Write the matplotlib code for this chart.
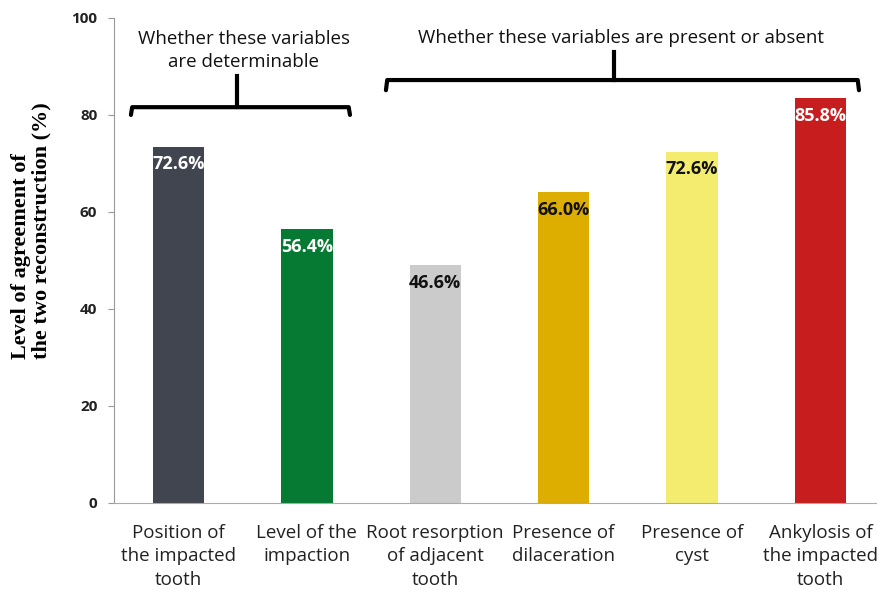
import matplotlib
matplotlib.use('Agg')
import matplotlib.pyplot as plt

# Data
categories = ['Position of\nthe impacted\ntooth', 'Level of the\nimpaction',
              'Root resorption\nof adjacent\ntooth', 'Presence of\ndilaceration',
              'Presence of\ncyst', 'Ankylosis of\nthe impacted\ntooth']
bar_heights = [73.4, 56.4, 49.0, 64.0, 72.4, 83.4]
bar_labels = ['72.6%', '56.4%', '46.6%', '66.0%', '72.6%', '85.8%']
bar_colors = ['#41454f', '#067a33', '#cbcbcb', '#ddad00', '#f4ec6e', '#c81d1e']
label_colors = ['white', 'white', '#111111', '#111111', '#111111', 'white']
yticks = [0, 20, 40, 60, 80, 100]

plt.rcParams['font.family'] = ['Open Sans', 'DejaVu Sans']

fig = plt.figure(figsize=(8.78, 5.90), dpi=100)
ax = fig.add_axes([0.1298, 0.148, 0.8702, 0.8215])

x = list(range(len(categories)))
ax.bar(x, bar_heights, width=0.4, color=bar_colors)

# Value labels inside the bars
for xi, h, lab, c in zip(x, bar_heights, bar_labels, label_colors):
    ax.annotate(lab, (xi, h), xytext=(0, -12.5), textcoords='offset points',
                ha='center', va='center', fontsize=13, fontweight='bold', color=c)

ax.set_xlim(-0.502, 5.448)
ax.set_ylim(0, 100)
ax.set_yticks(yticks)
ax.set_xticks(x)
ax.set_xticklabels(categories, fontsize=13.5, color='#222222', linespacing=1.42)
for t in ax.get_yticklabels():
    t.set_fontweight('bold')
    t.set_fontsize(11)
    t.set_color('#222222')
ax.tick_params(axis='x', length=0, pad=15)
ax.tick_params(axis='y', length=4, color='#999999', pad=8)

for s in ['top', 'right']:
    ax.spines[s].set_visible(False)
ax.spines['left'].set_color('#999999')
ax.spines['bottom'].set_color('#aaaaaa')

# y label, lines start at the same height like the original
fig.text(0.0359, 0.6085, 'Level of agreement of\nthe two reconstruction (%)',
         family='Liberation Serif', fontweight='bold', fontsize=16,
         rotation=90, ha='center', va='center', multialignment='left',
         linespacing=1.05)

# Brackets for the two groups
ax.plot([-0.37, -0.36, 1.326, 1.336], [80.0, 81.6, 81.6, 80.0], color='black',
        lw=3, clip_on=False, solid_joinstyle='round', solid_capstyle='round')
ax.plot([0.456, 0.456], [81.6, 88.0], color='black', lw=3, clip_on=False)
ax.plot([1.616, 1.626, 5.29, 5.30], [85.1, 87.2, 87.2, 85.1], color='black',
        lw=3, clip_on=False, solid_joinstyle='round', solid_capstyle='round')
ax.plot([3.39, 3.39], [87.2, 93.0], color='black', lw=3, clip_on=False)

ax.text(0.508, 93.3, 'Whether these variables\nare determinable', ha='center',
        va='center', fontsize=13.5, color='#111111', linespacing=1.33)
ax.text(3.446, 95.9, 'Whether these variables are present or absent', ha='center',
        va='center', fontsize=13.5, color='#111111')

fig.savefig('out.png', dpi=100)
